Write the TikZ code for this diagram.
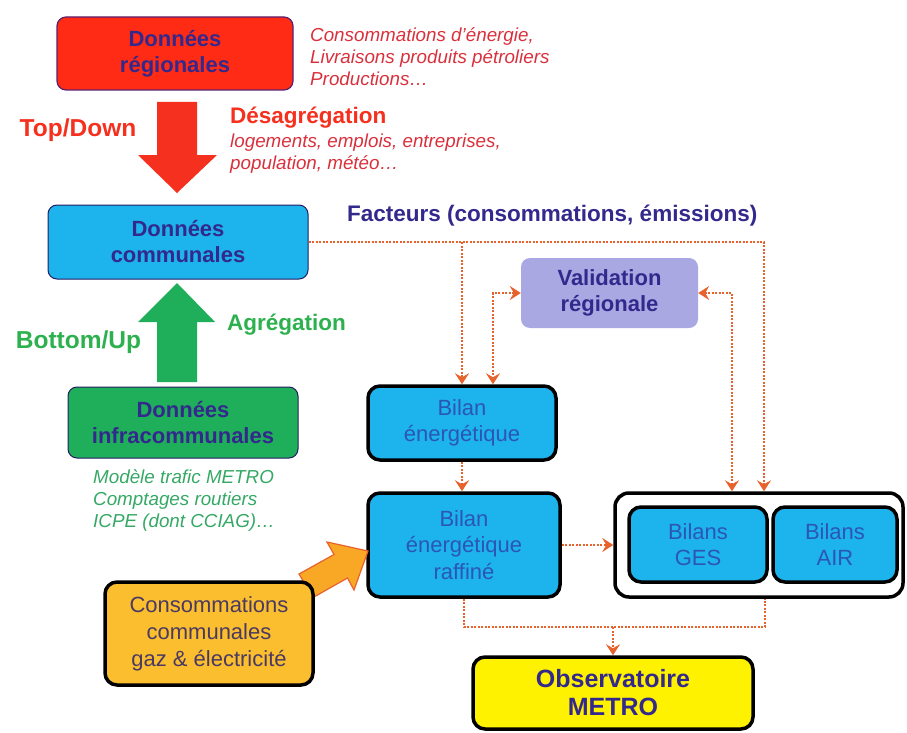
\documentclass[tikz,border=0pt]{standalone}
\usepackage{fontspec}
\setmainfont{Liberation Sans}
\usetikzlibrary{arrows.meta,positioning}
\definecolor{regred}{HTML}{FF2B14}
\definecolor{txtred}{HTML}{D9303C}
\definecolor{arred}{HTML}{F5301E}
\definecolor{navy}{HTML}{33288C}
\definecolor{combl}{HTML}{1DB3EC}
\definecolor{infgr}{HTML}{1FAF5A}
\definecolor{txtgr}{HTML}{35A865}
\definecolor{lblgr}{HTML}{2DB04E}
\definecolor{lav}{HTML}{A9A8E2}
\definecolor{dots}{HTML}{E8622C}
\definecolor{bilbl}{HTML}{2C56B6}
\definecolor{consor}{HTML}{FBBE2E}
\definecolor{consdk}{HTML}{4A3A62}
\definecolor{arror}{HTML}{F9A826}
\definecolor{obsye}{HTML}{FFF200}

\begin{document}
\begin{tikzpicture}[x=1pt, y=-1pt, >={Stealth[length=11pt,width=14pt,inset=4pt]},
  box/.style={rounded corners=9pt, align=center, inner sep=2pt,
    font=\fontsize{22}{26}\selectfont\bfseries, text=navy},
  bil/.style={box, fill=combl, draw=black, line width=3.5pt, rounded corners=12pt,
    font=\fontsize{22}{26.5}\selectfont, text=bilbl},
  lbl/.style={inner sep=0pt, font=\fontsize{22.5}{26}\selectfont\bfseries},
  big/.style={inner sep=0pt, font=\fontsize{24.5}{28}\selectfont\bfseries},
  note/.style={inner sep=0pt, align=left, font=\fontsize{18.8}{22}\selectfont\itshape},
  flow/.style={dots, line width=2pt, dash pattern=on 2pt off 1.5pt}]
  \useasboundingbox (0,0) rectangle (907,733);

  \node[box, fill=regred, draw=navy!80!red, line width=1.2pt, minimum width=236pt, minimum height=73pt] (reg) at (175,53.5) {Données\\régionales};
  \node[note, text=txtred, anchor=west] (regn) at (310,57) {Consommations d'énergie,\\Livraisons produits pétroliers\\Productions…};
  \node[big, text=arred] (td) at (78,130) {Top/Down};
  \node[lbl, text=arred, anchor=west] (desag) at (230,118) {Désagrégation};
  \node[note, text=txtred, anchor=west] (desagn) at (230,154) {logements, emplois, entreprises,\\population, météo…};
  \fill[arred] (157,102) -- (197,102) -- (197,155) -- (217,155) -- (177,193) -- (138,155) -- (157,155) -- cycle;

  \node[box, fill=combl, draw=navy!70!black, line width=1pt, minimum width=260pt, minimum height=74pt] (com) at (178,242) {Données\\communales};
  \node[lbl, text=navy, anchor=west] (fac) at (347,216) {Facteurs (consommations, émissions)};
  \node[lbl, text=lblgr, anchor=west] (agr) at (227,325) {Agrégation};
  \node[big, text=lblgr] (bu) at (78.5,342) {Bottom/Up};
  \fill[infgr] (157,382) -- (197,382) -- (197,322) -- (215,322) -- (177,283) -- (138,322) -- (157,322) -- cycle;
  \node[box, fill=infgr, draw=navy!70!black, line width=1pt, minimum width=230pt, minimum height=71pt] (infra) at (183,422.5) {Données\\infracommunales};
  \node[note, text=txtgr, anchor=west] (infran) at (93,501) {Modèle trafic METRO\\Comptages routiers\\ICPE (dont CCIAG)…};

  \node[box, fill=lav, minimum width=177pt, minimum height=70pt] (val) at (609.5,293) {Validation\\régionale};
  \node[bil, minimum width=188pt, minimum height=74pt] (bil) at (462,423) {Bilan\\énergétique};
  \node[bil, minimum width=192pt, minimum height=104pt] (raf) at (464,545) {Bilan\\énergétique\\raffiné};
  \node[box, draw=black, line width=3.5pt, rounded corners=14pt, minimum width=288pt, minimum height=104pt] (grp) at (759,545) {};
  \node[bil, minimum width=138pt, minimum height=75pt] (ges) at (698,544.5) {Bilans\\GES};
  \node[bil, minimum width=124pt, minimum height=75pt] (air) at (835,544.5) {Bilans\\AIR};

  \filldraw[fill=arror, draw=dots, line width=1.2pt] (299,574) -- (334,554.5) -- (327,542) -- (368,551) -- (354,590) -- (347.5,578) -- (313,597.5) -- cycle;
  \node[box, fill=consor, draw=black, line width=3.5pt, rounded corners=12pt, font=\fontsize{22}{27}\selectfont, text=consdk, minimum width=208pt, minimum height=103pt] (cons) at (209,633.5) {Consommations\\communales\\gaz \& électricité};
  \node[box, fill=obsye, draw=black, line width=3.5pt, rounded corners=12pt, font=\fontsize{25}{28}\selectfont\bfseries, minimum width=280pt, minimum height=72pt] (obs) at (613,693) {Observatoire\\METRO};

  \draw[flow, ->] (com.east) -| ([xshift=5pt]grp.north);
  \draw[flow, ->] (com.east -| bil.north) -- (bil.north);
  \draw[flow, <->] (val.west) -| ([xshift=31pt]bil.north);
  \draw[flow, <->] (val.east) -| ([xshift=-27pt]grp.north);
  \draw[flow, ->] (bil.south) -- (bil.south |- raf.north);
  \draw[flow, ->] (raf.east) -- (raf.east -| grp.west);
  \coordinate (jn) at (613,627);
  \draw[flow] (raf.south) |- (jn) -| ([xshift=6pt]grp.south);
  \draw[flow, ->] (jn) -- (obs.north);
\end{tikzpicture}
\end{document}
